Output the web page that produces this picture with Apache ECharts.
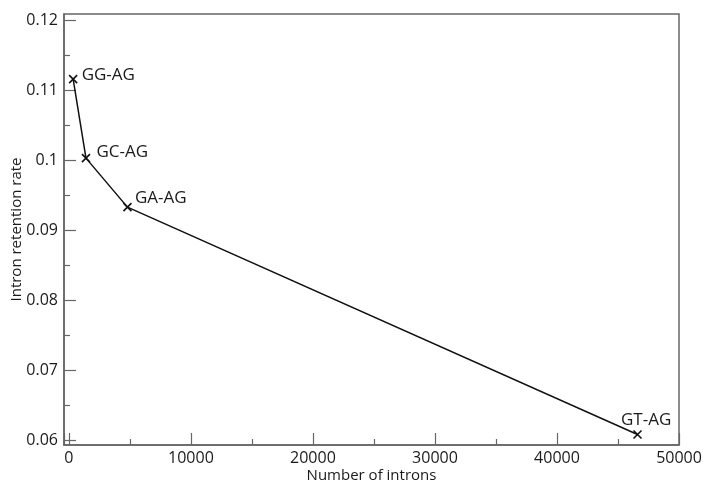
<!DOCTYPE html>
<html>
<head>
<meta charset="utf-8">
<script src="https://cdn.jsdelivr.net/npm/echarts@6/dist/echarts.min.js"></script>
<style>
  html, body { margin: 0; padding: 0; background: #fff; }
  #chart { width: 703px; height: 485px; }
</style>
</head>
<body>
<div id="chart"></div>
<script>
// splice site types, number of introns and retention rate
const siteNames = ['GG-AG', 'GC-AG', 'GA-AG', 'GT-AG'];
const intronCounts = [350, 1400, 4800, 46600];
const retentionRates = [0.1116, 0.1003, 0.0933, 0.0608];
// tick positions
const xTickValues = [0, 10000, 20000, 30000, 40000, 50000];
const yTickValues = [0.06, 0.07, 0.08, 0.09, 0.1, 0.11, 0.12];
const yMinorValues = [0.065, 0.075, 0.085, 0.095, 0.105, 0.115];
// label nudges per point
const labelOffsets = [[-2, -4], [0, -6], [-3, -9], [-27, -14]];

const textColor = '#1a1a1a';
const frameColor = '#666';
const fontFamily = '"Open Sans", sans-serif';

const points = intronCounts.map((x, i) => ({
  value: [x, retentionRates[i]],
  name: siteNames[i],
  label: { offset: labelOffsets[i] }
}));

const chart = echarts.init(document.getElementById('chart'), null, { renderer: 'canvas' });

const yRange = { min: 0.0593, max: 0.1209 };

chart.setOption({
  animation: false,
  backgroundColor: '#fff',
  grid: {
    left: 64, right: 24, top: 14, bottom: 40,
    outerBoundsMode: 'none', containLabel: false,
    show: true, borderColor: frameColor, borderWidth: 1.5
  },
  xAxis: {
    type: 'value',
    min: -400,
    max: 50000,
    name: 'Number of introns',
    nameLocation: 'middle',
    nameGap: 23,
    nameMoveOverlap: false,
    nameTextStyle: { color: textColor, fontSize: 15, fontFamily: fontFamily },
    axisLine: { show: true, onZero: false, lineStyle: { color: frameColor, width: 1.5 } },
    axisTick: { inside: true, length: 12, lineStyle: { color: frameColor, width: 1.2 } },
    minorTick: { show: true, splitNumber: 2, length: 6, lineStyle: { color: frameColor, width: 1.2 } },
    axisLabel: {
      color: textColor, fontSize: 16, fontFamily: fontFamily, margin: 5,
      customValues: xTickValues,
      formatter: v => String(v)
    },
    splitLine: { show: false }
  },
  yAxis: [
    {
      type: 'value',
      min: yRange.min,
      max: yRange.max,
      name: 'Intron retention rate',
      nameLocation: 'middle',
      nameGap: 40,
      nameMoveOverlap: false,
      nameTextStyle: { color: textColor, fontSize: 15, fontFamily: fontFamily },
      axisLine: { show: true, onZero: false, lineStyle: { color: frameColor, width: 1.5 } },
      axisTick: {
        inside: true, length: 12, lineStyle: { color: frameColor, width: 1.2 },
        customValues: yTickValues
      },
      minorTick: { show: false },
      axisLabel: {
        color: textColor, fontSize: 16, fontFamily: fontFamily, margin: 6,
        customValues: yTickValues,
        formatter: v => String(parseFloat(v.toFixed(3)))
      },
      splitLine: { show: false }
    },
    {
      // half-step ticks, shorter
      type: 'value',
      position: 'left',
      offset: 0,
      min: yRange.min,
      max: yRange.max,
      axisLine: { show: false, onZero: false },
      axisTick: {
        inside: true, length: 6, lineStyle: { color: frameColor, width: 1.2 },
        customValues: yMinorValues
      },
      axisLabel: { show: false },
      splitLine: { show: false }
    }
  ],
  series: [
    {
      type: 'line',
      data: points,
      symbol: 'path://M0,0L10,10M10,0L0,10',
      symbolSize: 8,
      showAllSymbol: true,
      lineStyle: { color: '#111', width: 1.5 },
      itemStyle: { color: 'none', borderColor: '#111', borderWidth: 1.6 },
      label: {
        show: true,
        position: 'right',
        distance: 4,
        formatter: p => p.name,
        color: textColor,
        fontSize: 17,
        fontFamily: fontFamily
      }
    }
  ]
});
</script>
</body>
</html>
